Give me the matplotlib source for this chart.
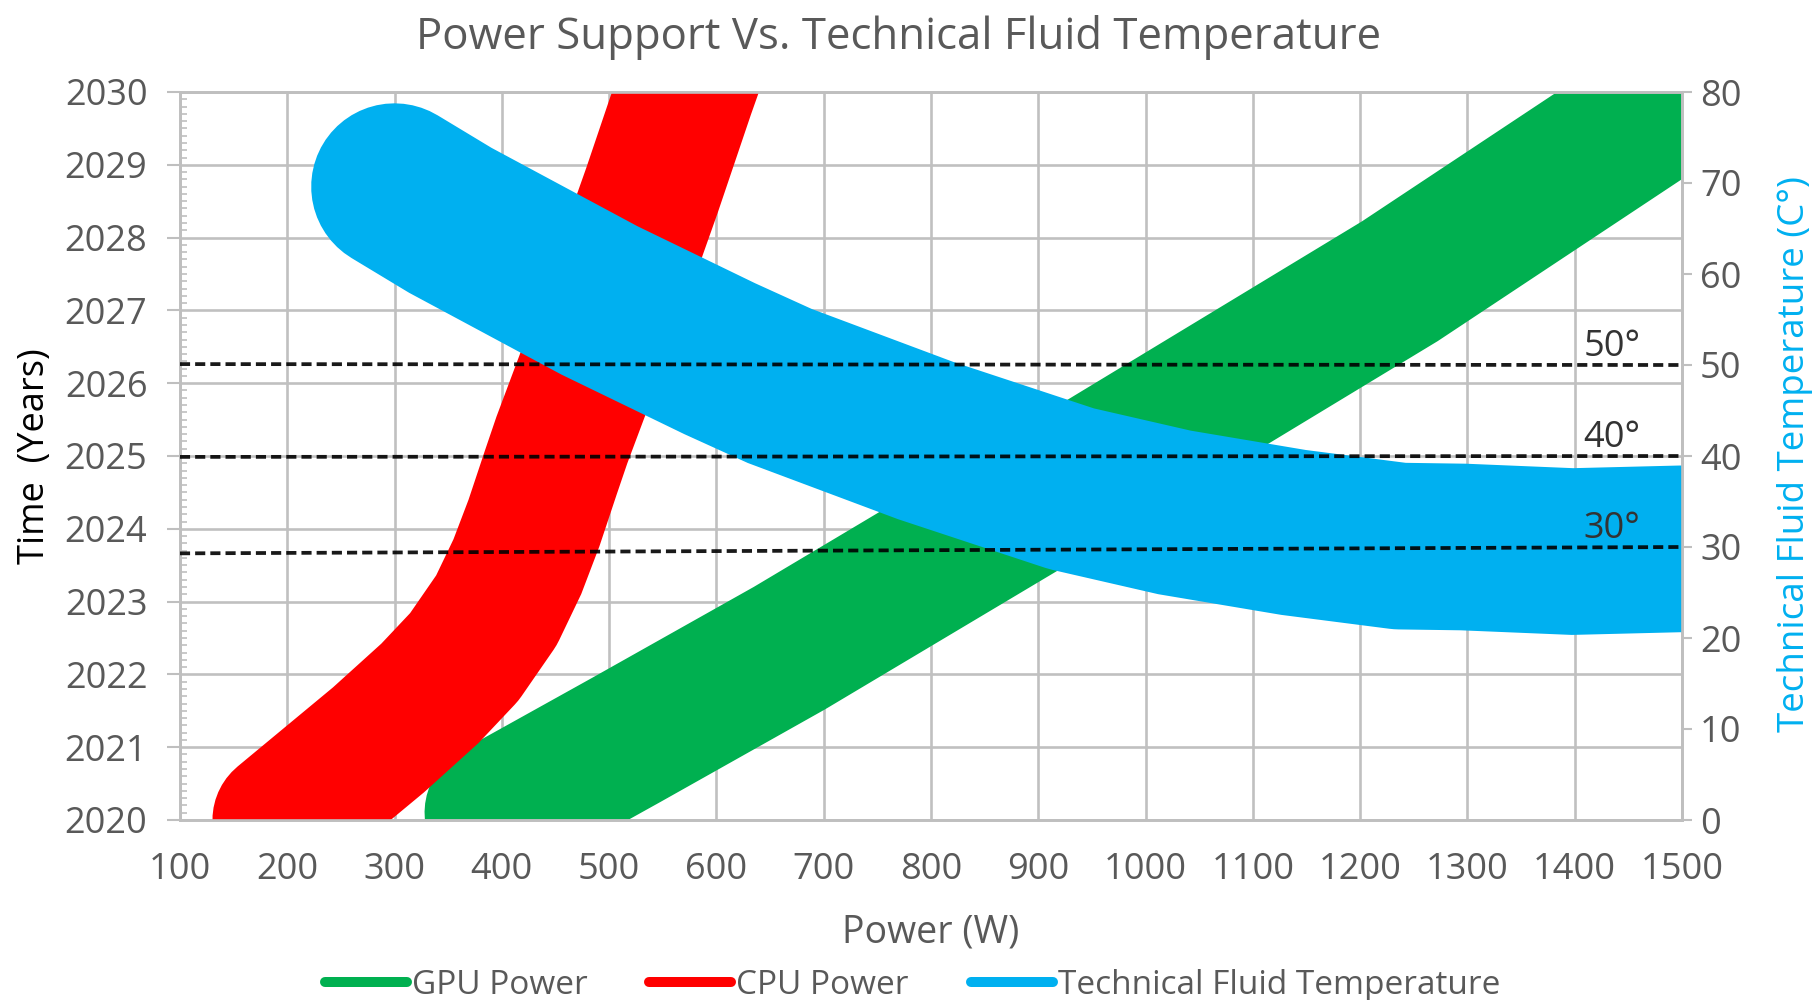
import matplotlib.pyplot as plt
from matplotlib.lines import Line2D
from matplotlib.ticker import MultipleLocator

plt.rcParams['font.family'] = ['Open Sans', 'DejaVu Sans']

# axis ticks
years = list(range(2020, 2031))
power_ticks = list(range(100, 1600, 100))
temp_ticks = list(range(0, 90, 10))

# GPU power (W) vs year
gpu_power = [394, 516, 668, 957, 1237, 1500]
gpu_year = [2020.1, 2021.1, 2022.36, 2024.9, 2027.4, 2029.97]

# CPU power (W) vs year
cpu_power = [195, 285, 333, 365, 395, 414.5, 430, 445.6, 456, 485, 540, 571, 583]
cpu_year = [2020.0, 2021.1, 2021.74, 2022.24, 2022.88, 2023.48, 2024.08,
            2024.77, 2025.22, 2026.36, 2028.65, 2030, 2030.5]

# technical fluid temperature (C) vs power (W)
fluid_power = [300, 352, 491, 603, 659, 795, 931, 1027, 1138, 1237, 1296, 1398, 1500]
fluid_temp = [69.6, 65.9, 57.1, 50.7, 47.7, 41.7, 36.4, 33.8, 31.6, 30.1, 30.0, 29.5, 29.8]

# dashed reference temperatures
dash_x = [100, 1500]
dash_50 = [50.1, 50.0]
dash_40 = [39.9, 40.0]
dash_30 = [29.3, 30.0]
dash_labels = ['50°', '40°', '30°']
label_x = 1408

GRAY = '#595959'
GRID = '#C0C0C0'

fig = plt.figure(figsize=(18.14, 10), dpi=100)
ax = fig.add_axes([0.0992, 0.18, 0.828, 0.728])
ax2 = ax.twinx()

ax.plot(gpu_power, gpu_year, color='#00B050', lw=102,
        solid_capstyle='round', solid_joinstyle='round', zorder=2)
ax.plot(cpu_power, cpu_year, color='#FF0000', lw=100,
        solid_capstyle='round', solid_joinstyle='round', zorder=3)
ax2.plot(fluid_power, fluid_temp, color='#00B0F0', lw=120,
         solid_capstyle='round', solid_joinstyle='round', zorder=2)

for temps, lab in zip([dash_50, dash_40, dash_30], dash_labels):
    ax2.plot(dash_x, temps, color='black', lw=2.7, ls=(0, (2.7, 1.35)),
             alpha=0.9, zorder=5)
    ax2.text(label_x, temps[1] + 1.0, lab, fontsize=26, color='#333333',
             ha='left', va='baseline', zorder=6)

ax.set_xlim(100, 1500)
ax.set_ylim(2020, 2030)
ax2.set_ylim(0, 80)

ax.set_xticks(power_ticks)
ax.set_yticks(years)
ax.yaxis.set_minor_locator(MultipleLocator(0.1))
ax2.set_yticks(temp_ticks)

ax.grid(True, which='major', color=GRID, lw=1.9)
ax.set_axisbelow(True)

ax.tick_params(axis='x', length=0, pad=23, labelsize=26, labelcolor=GRAY)
ax.tick_params(axis='y', which='major', length=9.4, width=1.5, color='#BFBFBF',
               pad=14, labelsize=26, labelcolor=GRAY)
ax.tick_params(axis='y', which='minor', direction='in', length=5, width=1.2,
               color='#BFBFBF')
ax2.tick_params(axis='y', length=7, width=1.5, color='#BFBFBF', pad=6,
                labelsize=26, labelcolor=GRAY)

for a in (ax, ax2):
    for s in a.spines.values():
        s.set_color('#BFBFBF')
        s.set_linewidth(1.9)

ax.set_xlabel('Power (W)', fontsize=27, color=GRAY, va='center')
ax.xaxis.set_label_coords(0.5, -0.154)
ax.set_ylabel('Time  (Years)', fontsize=26, color='black', va='center')
ax.yaxis.set_label_coords(-0.0962, 0.5)
ax2.set_ylabel('Technical Fluid Temperature (C°)', fontsize=26.5,
               color='#00B0F0', va='center')
ax2.yaxis.set_label_coords(1.075, 0.503)

fig.text(0.4956, 0.963, 'Power Support Vs. Technical Fluid Temperature',
         ha='center', va='center', fontsize=31.5, color=GRAY)

handles = [Line2D([], [], color=c, lw=7.2, solid_capstyle='round')
           for c in ('#00B050', '#FF0000', '#00B0F0')]
fig.legend(handles, ['GPU Power', 'CPU Power', 'Technical Fluid Temperature'],
           loc='center', bbox_to_anchor=(0.503, 0.015), ncol=3, frameon=False,
           fontsize=24, handlelength=2.46, handletextpad=0.15,
           columnspacing=1.85, labelcolor=GRAY)

fig.savefig('out.png', dpi=100)
